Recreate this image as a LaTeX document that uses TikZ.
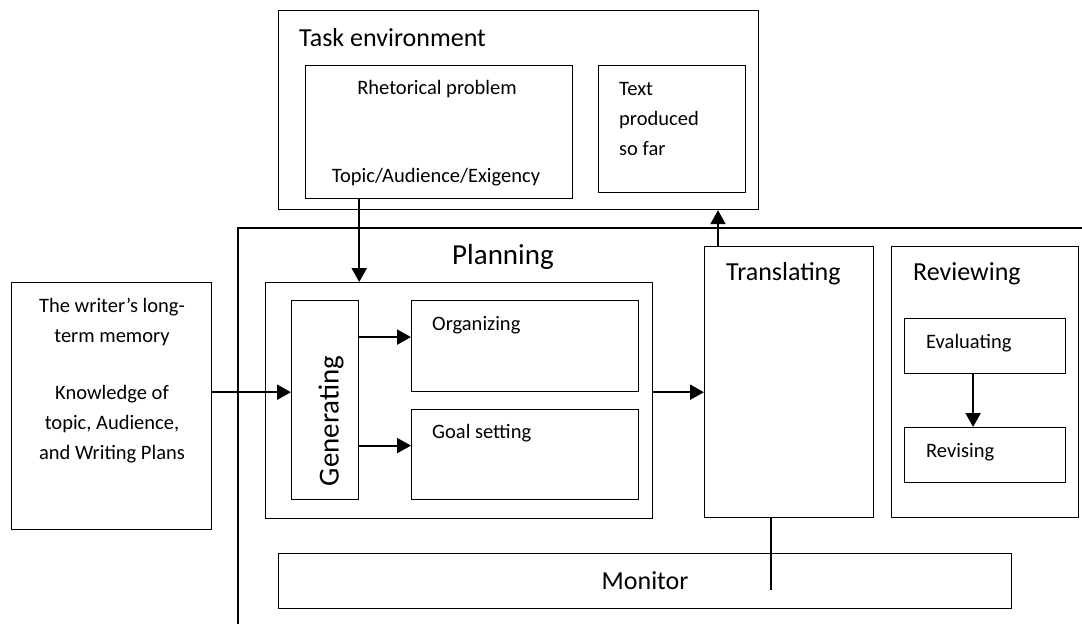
\documentclass[tikz,border=0pt]{standalone}
\usepackage{fontspec}
\setmainfont{Carlito}
\usetikzlibrary{arrows.meta}

\newcommand\smalltxt{\fontsize{20.5}{30}\selectfont}
\newcommand\bigtxt{\fontsize{26}{32}\selectfont}
\newcommand\hugetxt{\fontsize{29}{34}\selectfont}

\tikzset{
  box/.style={draw, line width=1.2pt, inner sep=0pt, anchor=north west},
  lbl/.style={inner sep=0pt, anchor=west, font=\smalltxt},
  title/.style={inner sep=0pt, anchor=west, font=\bigtxt},
  flow/.style={line width=2.2pt, -{Triangle[length=14pt,width=15pt]}}
}

\begin{document}
\begin{tikzpicture}[x=1pt,y=-1pt]
\useasboundingbox (0,0) rectangle (1082,624);

% task environment
\node[box, minimum width=480pt, minimum height=199pt] (task) at (278,10) {};
\node[title] (tasklbl) at (299,38) {Task environment};
\node[box, minimum width=267pt, minimum height=133pt] (rhet) at (305,65) {};
\node[lbl, anchor=center] (rhettop) at (437,89) {Rhetorical problem};
\node[lbl, anchor=center] (rhetbot) at (436,177) {Topic/Audience/Exigency};
\node[box, minimum width=147pt, minimum height=127pt] (sofar) at (598,65) {};
\node[lbl, align=left] (sofarlbl) at (619,119) {Text\\produced\\so far};

% long-term memory
\node[box, minimum width=200pt, minimum height=247pt] (mem) at (11,282) {};
\node[lbl, anchor=center, align=center] (memtop) at (112,322) {The writer’s long-\\term memory};
\node[lbl, anchor=center, align=center] (membot) at (112,424) {Knowledge of\\topic, Audience,\\and Writing Plans};

% writing process
\draw[line width=1.2pt] (1082,228) -- (238,228) -- (238,624);

\node[font=\hugetxt, inner sep=0pt] (planlbl) at (503,257) {Planning};
\node[box, minimum width=387pt, minimum height=236pt] (plan) at (265,282) {};
\node[box, minimum width=67pt, minimum height=199pt] (gen) at (291,300) {};
\node[font=\hugetxt, inner sep=0pt, rotate=90] (genlbl) at (331,421) {Generating};
\node[box, minimum width=227pt, minimum height=91pt] (org) at (411,300) {};
\node[lbl] (orglbl) at (432,325) {Organizing};
\node[box, minimum width=227pt, minimum height=90pt] (goal) at (411,409) {};
\node[lbl] (goallbl) at (432,433) {Goal setting};

\node[box, minimum width=169pt, minimum height=271pt] (trans) at (704,246) {};
\node[title] (translbl) at (726,274) {Translating};

\node[box, minimum width=187pt, minimum height=271pt] (revw) at (891,246) {};
\node[title] (revwlbl) at (913,274) {Reviewing};
\node[box, minimum width=161pt, minimum height=55pt] (eval) at (904,318) {};
\node[lbl] (evallbl) at (926,343) {Evaluating};
\node[box, minimum width=161pt, minimum height=55pt] (rev) at (904,427) {};
\node[lbl] (revlbl) at (926,452) {Revising};

\node[box, minimum width=733pt, minimum height=55pt] (mon) at (278,553) {};
\node[font=\bigtxt, inner sep=0pt] (monlbl) at (mon.center) {Monitor};
\coordinate (monend) at (771,590);

\draw[flow] (rhet.south -| gen.east) -- (plan.north -| gen.east);
\draw[flow] (mem.east |- org.south) -- (gen.west |- org.south);
\draw[flow] ([yshift=9pt]gen.east |- org.west) -- ([yshift=9pt]org.west);
\draw[flow] ([yshift=9pt]gen.east |- goal.west) -- ([yshift=9pt]goal.west);
\draw[flow] (plan.east |- org.south) -- (trans.west |- org.south);
\draw[flow] ([xshift=14pt]trans.north west) -- ([xshift=14pt]trans.north west |- task.south);
\draw[flow] ([xshift=-12pt]eval.south) -- ([xshift=-12pt]rev.north);
\draw[line width=1.2pt] (trans.south -| monend) -- (monend);

\end{tikzpicture}
\end{document}
